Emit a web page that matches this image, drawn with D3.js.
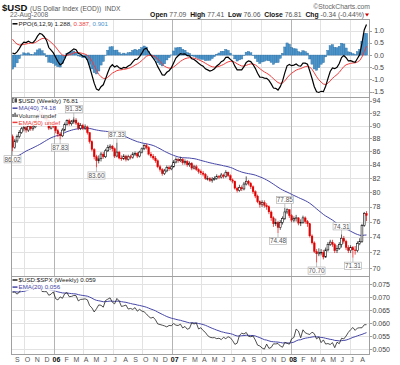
<!DOCTYPE html>
<html>
<head>
<meta charset="utf-8">
<script src="https://cdnjs.cloudflare.com/ajax/libs/d3/7.8.5/d3.min.js"></script>
<style>
body { margin: 0; background: #fff; }
text { font-family: "Liberation Sans", Arial, sans-serif; }
</style>
</head>
<body>
<svg id="chart" width="400" height="365"></svg>
<script>
// weekly $USD bars, 26-Aug-2005 .. 22-Aug-2008 (one per Friday)
var opens = [
  88.3, 86.6, 87.6, 88.3, 88.9, 89.5, 89.7, 89.3, 89.9, 89.5,
  89.8, 90.7, 91.6, 91.9, 91.5, 91.2, 90.8, 89.6, 90.2, 89.9,
  89.2, 88.7, 88.4, 89.3, 90.2, 90.8, 90.3, 90.6, 90.9, 90.4,
  89.6, 90.0, 89.6, 89.8, 88.9, 87.5, 86.3, 85.2, 84.6, 84.9,
  85.6, 85.2, 86.1, 86.6, 86.8, 86.4, 85.3, 85.9, 85.0, 84.9,
  85.3, 84.8, 85.2, 85.1, 85.6, 85.7, 85.3, 85.9, 86.4, 86.9,
  86.6, 85.6, 85.3, 85.0, 84.6, 83.7, 83.3, 82.7, 83.1, 83.6,
  83.4, 83.7, 84.4, 84.8, 84.6, 84.8, 84.3, 84.5, 84.0, 84.2,
  83.5, 83.7, 83.3, 83.0, 82.8, 82.6, 82.0, 82.0, 81.7, 81.9,
  82.0, 82.3, 82.2, 82.5, 82.3, 82.9, 82.4, 81.8, 81.6, 80.6,
  80.3, 80.7, 80.5, 81.2, 81.6, 81.3, 80.8, 80.1, 79.5, 78.7,
  78.3, 78.6, 78.2, 78.0, 77.3, 76.5, 75.7, 75.9, 75.2, 75.9,
  76.4, 77.3, 77.6, 76.8, 76.2, 76.4, 76.5, 75.8, 75.9, 76.5,
  76.0, 75.7, 74.1, 73.2, 72.1, 71.8, 72.0, 72.0, 71.4, 72.3,
  73.0, 73.3, 73.0, 72.2, 72.5, 73.0, 73.8, 73.4, 72.6, 72.2,
  72.6, 72.3, 72.2, 73.1, 73.4, 75.5, 77.1
];
var highs = [
  88.6, 87.9, 88.6, 89.3, 89.8, 90.2, 90.0, 90.2, 90.3, 90.1,
  91.0, 91.9, 92.6, 92.2, 91.9, 91.6, 91.0, 90.6, 90.7, 90.2,
  89.5, 89.0, 89.6, 90.5, 91.0, 91.1, 90.9, 91.35, 91.2, 90.6,
  90.4, 90.3, 90.2, 90.0, 89.0, 87.7, 86.5, 85.5, 85.4, 85.9,
  85.9, 86.4, 87.0, 87.1, 87.0, 86.6, 87.33, 86.1, 85.4, 85.6,
  85.5, 85.5, 85.5, 85.9, 86.0, 85.9, 86.1, 86.6, 87.1, 87.2,
  86.8, 85.9, 85.6, 85.3, 84.8, 84.0, 83.5, 83.4, 83.9, 83.9,
  84.0, 84.7, 85.1, 85.0, 85.2, 85.0, 84.8, 84.7, 84.5, 84.4,
  84.0, 84.0, 83.5, 83.3, 83.1, 82.8, 82.4, 82.2, 82.2, 82.3,
  82.6, 82.5, 82.8, 82.7, 83.2, 83.0, 82.6, 82.0, 81.7, 80.8,
  81.1, 81.0, 81.5, 82.3, 81.8, 81.5, 81.0, 80.3, 79.7, 78.9,
  78.9, 78.9, 78.5, 78.2, 77.5, 76.7, 76.4, 76.1, 76.2, 76.7,
  77.85, 77.8, 77.7, 77.0, 76.7, 76.9, 76.6, 76.3, 76.8, 76.7,
  76.2, 75.8, 74.3, 73.4, 72.4, 72.5, 72.4, 72.3, 72.6, 73.3,
  73.6, 73.6, 73.2, 72.9, 73.3, 74.31, 74.1, 73.6, 72.9, 72.9,
  72.8, 72.8, 73.4, 73.8, 75.7, 77.3, 77.41
];
var lows = [
  86.02, 86.4, 87.3, 88.0, 88.7, 89.1, 88.9, 89.0, 89.2, 89.2,
  89.6, 90.5, 91.3, 91.2, 90.9, 90.5, 89.3, 89.4, 89.6, 88.8,
  88.2, 87.83, 88.2, 89.1, 90.0, 90.0, 90.0, 90.3, 90.1, 89.3,
  89.3, 89.3, 89.3, 88.6, 87.2, 86.0, 84.8, 83.60, 84.2, 84.5,
  84.9, 85.0, 85.9, 86.2, 86.0, 85.0, 85.1, 84.8, 84.6, 84.7,
  84.5, 84.6, 84.8, 84.9, 85.3, 85.0, 85.1, 85.7, 86.2, 86.3,
  85.4, 85.0, 84.7, 84.3, 83.5, 83.0, 82.4, 82.5, 82.9, 83.1,
  83.2, 83.6, 84.2, 84.3, 84.4, 84.0, 84.0, 83.7, 83.7, 83.2,
  83.3, 83.1, 82.7, 82.5, 82.3, 81.8, 81.7, 81.5, 81.4, 81.7,
  81.8, 81.9, 82.0, 82.0, 82.1, 82.2, 81.6, 81.3, 80.4, 80.0,
  80.1, 80.2, 80.3, 81.0, 81.0, 80.5, 79.8, 79.2, 78.5, 77.9,
  78.0, 77.9, 77.6, 77.0, 76.1, 75.3, 75.4, 74.48, 74.9, 75.6,
  76.2, 77.0, 76.5, 75.9, 75.9, 76.0, 75.5, 75.4, 75.7, 75.7,
  75.3, 73.9, 73.0, 71.9, 70.70, 71.5, 71.6, 71.1, 71.3, 72.1,
  72.8, 72.7, 71.9, 71.9, 72.3, 72.6, 73.1, 72.3, 71.9, 71.9,
  71.31, 71.7, 72.0, 72.9, 73.2, 75.3, 76.06
];
var closes = [
  86.6, 87.6, 88.3, 88.9, 89.5, 89.7, 89.3, 89.9, 89.5, 89.8,
  90.7, 91.6, 91.9, 91.5, 91.2, 90.8, 89.6, 90.2, 89.9, 89.2,
  88.7, 88.4, 89.3, 90.2, 90.8, 90.3, 90.6, 90.9, 90.4, 89.6,
  90.0, 89.6, 89.8, 88.9, 87.5, 86.3, 85.2, 84.6, 84.9, 85.6,
  85.2, 86.1, 86.6, 86.8, 86.4, 85.3, 85.9, 85.0, 84.9, 85.3,
  84.8, 85.2, 85.1, 85.6, 85.7, 85.3, 85.9, 86.4, 86.9, 86.6,
  85.6, 85.3, 85.0, 84.6, 83.7, 83.3, 82.7, 83.1, 83.6, 83.4,
  83.7, 84.4, 84.8, 84.6, 84.8, 84.3, 84.5, 84.0, 84.2, 83.5,
  83.7, 83.3, 83.0, 82.8, 82.6, 82.0, 82.0, 81.7, 81.9, 82.0,
  82.3, 82.2, 82.5, 82.3, 82.9, 82.4, 81.8, 81.6, 80.6, 80.3,
  80.7, 80.5, 81.2, 81.6, 81.3, 80.8, 80.1, 79.5, 78.7, 78.3,
  78.6, 78.2, 78.0, 77.3, 76.5, 75.7, 75.9, 75.2, 75.9, 76.4,
  77.3, 77.6, 76.8, 76.2, 76.4, 76.5, 75.8, 75.9, 76.5, 76.0,
  75.7, 74.1, 73.2, 72.1, 71.8, 72.0, 72.0, 71.4, 72.3, 73.0,
  73.3, 73.0, 72.2, 72.5, 73.0, 73.8, 73.4, 72.6, 72.2, 72.6,
  72.3, 72.2, 73.1, 73.4, 75.5, 77.1, 76.81
];
// S&P 500 weekly closes for the same Fridays (for the $USD:$SPX ratio)
var spxCloses = [
  1205, 1218, 1241, 1237, 1215, 1229, 1195, 1187, 1179, 1199,
  1220, 1235, 1248, 1268, 1265, 1259, 1267, 1268, 1248, 1285,
  1287, 1261, 1284, 1265, 1266, 1287, 1289, 1287, 1281, 1307,
  1302, 1295, 1295, 1289, 1311, 1310, 1325, 1291, 1267, 1280,
  1288, 1253, 1251, 1245, 1270, 1265, 1236, 1240, 1278, 1280,
  1266, 1302, 1296, 1311, 1299, 1320, 1315, 1336, 1350, 1362,
  1368, 1377, 1364, 1380, 1401, 1400, 1396, 1409, 1427, 1410,
  1418, 1409, 1431, 1431, 1422, 1449, 1438, 1456, 1451, 1387,
  1402, 1386, 1436, 1421, 1444, 1452, 1484, 1495, 1505, 1505,
  1522, 1515, 1536, 1507, 1533, 1503, 1503, 1530, 1553, 1534,
  1459, 1433, 1453, 1445, 1479, 1474, 1454, 1484, 1525, 1527,
  1557, 1562, 1500, 1535, 1509, 1453, 1458, 1440, 1481, 1504,
  1468, 1484, 1478, 1411, 1401, 1325, 1330, 1395, 1331, 1349,
  1353, 1331, 1294, 1288, 1330, 1316, 1370, 1332, 1390, 1398,
  1414, 1389, 1426, 1375, 1400, 1361, 1360, 1318, 1278, 1262,
  1239, 1261, 1257, 1260, 1296, 1298, 1292
];
// 40 weeks before the window, used to warm up the averages
var priorUsd = [
  82.3, 81.5, 81.3, 82.5, 81.9, 81.4, 80.9, 83.3, 83.1, 83.4,
  83.6, 84.6, 84.6, 83.3, 82.6, 82.5, 81.5, 82.6, 84.2, 84.3,
  84.5, 84.2, 83.2, 83.6, 84.2, 85.7, 86.2, 86.8, 87.3, 87.9,
  87.3, 88.6, 89.3, 89.3, 89.5, 89.0, 88.9, 87.7, 87.4, 88.2
];
var priorSpx = [
  1170, 1182, 1191, 1189, 1194, 1210, 1212, 1186, 1184, 1168,
  1171, 1203, 1205, 1201, 1211, 1222, 1200, 1190, 1172, 1172,
  1182, 1143, 1152, 1157, 1172, 1154, 1189, 1198, 1197, 1201,
  1217, 1191, 1211, 1212, 1228, 1229, 1234, 1226, 1238, 1220
];
// labelled swing points (bar index)
var peakIdx = [27, 46, 120, 145];
var troughIdx = [0, 21, 37, 117, 134, 150];

var ppoTicks = [1.0, 0.5, 0.0, -0.5, -1.0, -1.5];
var priceTicks = [94, 92, 90, 88, 86, 84, 82, 80, 78, 76, 74, 72, 70];
var ratioTicks = [0.075, 0.070, 0.065, 0.060, 0.055, 0.050];

var svg = d3.select("#chart");
var left = 11, right = 370;
var weeks = d3.timeFriday.range(new Date(2005, 7, 26), new Date(2008, 7, 23));
var x = d3.scaleTime().domain([weeks[0], weeks[weeks.length - 1]]).range([12.5, 366.5]);

var panels = {
  ppo:   { top: 19,  bottom: 97 },
  price: { top: 97,  bottom: 276 },
  ratio: { top: 276, bottom: 354 }
};
var yPpo = d3.scaleLinear().domain([-1.72, 1.48]).range([panels.ppo.bottom, panels.ppo.top]);
var yPrice = d3.scaleLog().domain([69.05, 94.66]).range([panels.price.bottom, panels.price.top]);
var yRatio = d3.scaleLinear().domain([0.0482, 0.0781]).range([panels.ratio.bottom, panels.ratio.top]);

// ---- indicators
function ema(values, n) {
  var k = 2 / (n + 1), out = [], prev = values[0];
  values.forEach(function (v) { prev = prev + k * (v - prev); out.push(prev); });
  return out;
}
var P = priorUsd.length;
var allUsd = priorUsd.concat(closes);
var e6 = ema(allUsd, 6), e12 = ema(allUsd, 12);
var ppoAll = allUsd.map(function (v, i) { return (e6[i] - e12[i]) / e12[i] * 100; });
var sigAll = ema(ppoAll, 9);
var ppo = ppoAll.slice(P), signal = sigAll.slice(P);
var hist = ppo.map(function (v, i) { return v - signal[i]; });
var ma40 = closes.map(function (c, i) { return d3.mean(allUsd.slice(i + P - 39, i + P + 1)); });

var allRatio = priorUsd.map(function (v, i) { return v / priorSpx[i]; })
  .concat(closes.map(function (v, i) { return v / spxCloses[i]; }));
var ratio = allRatio.slice(P);
var ratioEma = ema(allRatio, 20).slice(P);

// ---- frame helpers
var gridColor = "#e2e2e2", yearColor = "#b4b4b4", frameColor = "#a0a0a0";
var quarters = d3.timeMonth.range(new Date(2005, 9, 1), new Date(2008, 8, 1), 3);

function clipFor(name, p) {
  svg.append("clipPath").attr("id", "clip-" + name).append("rect")
    .attr("x", left).attr("y", p.top).attr("width", right - left).attr("height", p.bottom - p.top);
}

function drawGrid(p, yScale, ticks) {
  var g = svg.append("g");
  g.selectAll(".h").data(ticks).join("line")
    .attr("x1", left).attr("x2", right)
    .attr("y1", function (d) { return Math.round(yScale(d)) + 0.5; })
    .attr("y2", function (d) { return Math.round(yScale(d)) + 0.5; })
    .attr("stroke", gridColor).attr("stroke-width", 1);
  g.selectAll(".v").data(quarters).join("line")
    .attr("x1", function (d) { return Math.round(x(d)) + 0.5; })
    .attr("x2", function (d) { return Math.round(x(d)) + 0.5; })
    .attr("y1", p.top).attr("y2", p.bottom)
    .attr("stroke", function (d) { return d.getMonth() === 0 ? yearColor : gridColor; })
    .attr("stroke-width", 1);
}

function drawAxis(p, yScale, ticks, fmt, anchorEnd) {
  var g = svg.append("g");
  g.selectAll("line").data(ticks).join("line")
    .attr("x1", right).attr("x2", right + 2)
    .attr("y1", function (d) { return Math.round(yScale(d)) + 0.5; })
    .attr("y2", function (d) { return Math.round(yScale(d)) + 0.5; })
    .attr("stroke", frameColor);
  g.selectAll("text").data(ticks).join("text")
    .attr("x", anchorEnd ? 384 : 372.5)
    .attr("y", function (d) { return yScale(d) + 2.5; })
    .attr("text-anchor", anchorEnd ? "end" : "start")
    .attr("font-size", 7).attr("fill", "#444")
    .text(fmt);
}

function frame(p) {
  svg.append("rect").attr("x", left + 0.5).attr("y", p.top + 0.5)
    .attr("width", right - left - 1).attr("height", p.bottom - p.top)
    .attr("fill", "none").attr("stroke", frameColor);
}

function legendRow(yBase, icon, parts) {
  var row = svg.append("g");
  var bg = row.append("rect");
  var t = row.append("text").attr("x", 18.5).attr("y", yBase).attr("font-size", 6.2);
  parts.forEach(function (pt) { t.append("tspan").attr("fill", pt[1]).text(pt[0]); });
  var w = t.node().getComputedTextLength();
  bg.attr("x", 12).attr("y", yBase - 5.6).attr("width", w + 8).attr("height", 7)
    .attr("fill", "#fff").attr("fill-opacity", 0.92);
  if (icon.type === "line") {
    row.append("line").attr("x1", 12.5).attr("x2", 17.5)
      .attr("y1", yBase - 2.2).attr("y2", yBase - 2.2)
      .attr("stroke", icon.color).attr("stroke-width", 1.5);
  } else if (icon.type === "candle") {
    row.append("rect").attr("x", 12.5).attr("y", yBase - 4.6).attr("width", 1.6).attr("height", 3.6)
      .attr("fill", "#fff").attr("stroke", "#222").attr("stroke-width", 0.6);
    row.append("rect").attr("x", 15.2).attr("y", yBase - 5).attr("width", 1.6).attr("height", 4.2)
      .attr("fill", "#222");
  } else {
    [[12.4, 3], [14.4, 4.3], [16.4, 2.5]].forEach(function (b) {
      row.append("rect").attr("x", b[0]).attr("y", yBase - 0.5 - b[1])
        .attr("width", 1.3).attr("height", b[1]).attr("fill", "#444");
    });
  }
}

// ---- header
svg.append("text").attr("x", 2).attr("y", 10.5).attr("font-size", 9.5).attr("font-weight", "bold")
  .attr("fill", "#111").text("$USD");
svg.append("text").attr("x", 30).attr("y", 10.5).attr("font-size", 6.6).attr("fill", "#555")
  .attr("xml:space", "preserve").text("(US Dollar Index (EOD))  INDX");
svg.append("text").attr("x", 10).attr("y", 17).attr("font-size", 6.6)
  .attr("fill", "#666").text("22-Aug-2008");
svg.append("text").attr("x", 370).attr("y", 8.5).attr("font-size", 6.8).attr("text-anchor", "end")
  .attr("fill", "#666").text("\u00a9StockCharts.com");

var quote = svg.append("text").attr("x", 364).attr("y", 17).attr("font-size", 6.8)
  .attr("text-anchor", "end");
[["Open ", true], ["77.09  ", false], ["High ", true], ["77.41  ", false], ["Low ", true],
 ["76.06  ", false], ["Close ", true], ["76.81  ", false], ["Chg ", true], ["-0.34 (-0.44%)", false]]
  .forEach(function (q) {
    quote.append("tspan").attr("font-weight", q[1] ? "bold" : "normal")
      .attr("fill", q[1] ? "#111" : "#555").attr("xml:space", "preserve").text(q[0]);
  });
svg.append("path").attr("d", "M365,13.5 L369,13.5 L367,16.5 Z").attr("fill", "#c00");

// ---- PPO panel
clipFor("ppo", panels.ppo);
drawGrid(panels.ppo, yPpo, ppoTicks);
var gPpo = svg.append("g").attr("clip-path", "url(#clip-ppo)");
gPpo.selectAll("rect").data(hist).join("rect")
  .attr("x", function (d, i) { return x(weeks[i]) - 1.13; })
  .attr("width", 2.27)
  .attr("y", function (d) { return Math.min(yPpo(d), yPpo(0)); })
  .attr("height", function (d) { return Math.abs(yPpo(d) - yPpo(0)); })
  .attr("fill", "#4b95cd").attr("stroke", "#2f6e9f").attr("stroke-width", 0.4);
gPpo.append("path").datum(signal)
  .attr("d", d3.line().x(function (d, i) { return x(weeks[i]); }).y(function (d) { return yPpo(d); }))
  .attr("fill", "none").attr("stroke", "#f03c3c").attr("stroke-width", 1);
gPpo.append("path").datum(ppo)
  .attr("d", d3.line().x(function (d, i) { return x(weeks[i]); }).y(function (d) { return yPpo(d); }))
  .attr("fill", "none").attr("stroke", "#000").attr("stroke-width", 1.2);
drawAxis(panels.ppo, yPpo, ppoTicks, function (d) { return d.toFixed(1); }, true);
legendRow(26, { type: "line", color: "#000" },
  [["PPO(6,12,9) 1.288, ", "#222"], ["0.387, ", "#f03c3c"], ["0.901", "#4b95cd"]]);
frame(panels.ppo);

// ---- price panel
clipFor("price", panels.price);
drawGrid(panels.price, yPrice, priceTicks);
var gPrice = svg.append("g").attr("clip-path", "url(#clip-price)");
gPrice.append("path").datum(ma40)
  .attr("d", d3.line().x(function (d, i) { return x(weeks[i]); }).y(function (d) { return yPrice(d); }))
  .attr("fill", "none").attr("stroke", "#4646a8").attr("stroke-width", 1);

function barColor(i) {
  var prev = i === 0 ? priorUsd[P - 1] : closes[i - 1];
  return closes[i] >= prev ? "#111" : "#e00000";
}
gPrice.selectAll(".wick").data(closes).join("line")
  .attr("x1", function (d, i) { return x(weeks[i]); })
  .attr("x2", function (d, i) { return x(weeks[i]); })
  .attr("y1", function (d, i) { return yPrice(highs[i]); })
  .attr("y2", function (d, i) { return yPrice(lows[i]); })
  .attr("stroke", function (d, i) { return barColor(i); }).attr("stroke-width", 0.7);
gPrice.selectAll(".body").data(closes).join("rect")
  .attr("x", function (d, i) { return x(weeks[i]) - 0.9; })
  .attr("width", 1.8)
  .attr("y", function (d, i) { return yPrice(Math.max(opens[i], d)); })
  .attr("height", function (d, i) { return Math.max(0.8, Math.abs(yPrice(opens[i]) - yPrice(d))); })
  .attr("fill", function (d, i) { return d > opens[i] ? "#fff" : barColor(i); })
  .attr("stroke", function (d, i) { return barColor(i); })
  .attr("stroke-width", function (d, i) { return d > opens[i] ? 0.6 : 0.3; });

// swing point labels
var notes = peakIdx.map(function (i) { return { i: i, v: highs[i], up: true }; })
  .concat(troughIdx.map(function (i) { return { i: i, v: lows[i], up: false }; }));
var gNotes = svg.append("g");
notes.forEach(function (n) {
  var cx = x(weeks[n.i]), py = yPrice(n.v);
  var cy = n.up ? py - 8 : py + 8;
  gNotes.append("line").attr("x1", cx).attr("x2", cx).attr("y1", py)
    .attr("y2", n.up ? cy + 3.6 : cy - 3.6).attr("stroke", "#999").attr("stroke-width", 0.6);
  gNotes.append("rect").attr("x", cx - 8.5).attr("y", cy - 3.6).attr("width", 17).attr("height", 7.2)
    .attr("fill", "#fff").attr("stroke", "#aaa").attr("stroke-width", 0.6);
  gNotes.append("text").attr("x", cx).attr("y", cy + 2.3).attr("text-anchor", "middle")
    .attr("font-size", 6.4).attr("fill", "#555").text(n.v.toFixed(2));
});
drawAxis(panels.price, yPrice, priceTicks, function (d) { return d; }, false);
legendRow(103.3, { type: "candle" }, [["$USD (Weekly) 76.81", "#222"]]);
legendRow(110.4, { type: "line", color: "#4646a8" }, [["MA(40) 74.18", "#4646a8"]]);
legendRow(117.5, { type: "bars" }, [["Volume undef", "#333"]]);
legendRow(124.6, { type: "line", color: "#f03c3c" }, [["EMA(50) undef", "#f03c3c"]]);
frame(panels.price);

// ---- ratio panel
clipFor("ratio", panels.ratio);
drawGrid(panels.ratio, yRatio, ratioTicks);
var gRatio = svg.append("g").attr("clip-path", "url(#clip-ratio)");
gRatio.append("path").datum(ratioEma)
  .attr("d", d3.line().x(function (d, i) { return x(weeks[i]); }).y(function (d) { return yRatio(d); }))
  .attr("fill", "none").attr("stroke", "#4646a8").attr("stroke-width", 1);
gRatio.append("path").datum(ratio)
  .attr("d", d3.line().x(function (d, i) { return x(weeks[i]); }).y(function (d) { return yRatio(d); }))
  .attr("fill", "none").attr("stroke", "#222").attr("stroke-width", 0.8);
drawAxis(panels.ratio, yRatio, ratioTicks, function (d) { return d.toFixed(3); }, false);
legendRow(282.2, { type: "line", color: "#222" }, [["$USD:$SPX (Weekly) 0.059", "#222"]]);
legendRow(289.3, { type: "line", color: "#4646a8" }, [["EMA(20) 0.056", "#4646a8"]]);
frame(panels.ratio);

// ---- month labels
var months = d3.timeMonth.range(new Date(2005, 8, 1), new Date(2008, 8, 1));
var fmtMonth = d3.timeFormat("%b");
svg.append("g").selectAll("text").data(months).join("text")
  .attr("x", function (d) { return d.getMonth() === 0 ? x(d) - 1.5 : x(d) + 0.5; })
  .attr("y", 362)
  .attr("font-size", 7)
  .attr("font-weight", function (d) { return d.getMonth() === 0 ? "bold" : "normal"; })
  .attr("fill", function (d) { return d.getMonth() === 0 ? "#111" : "#555"; })
  .text(function (d) { return d.getMonth() === 0 ? d3.timeFormat("%y")(d) : fmtMonth(d).charAt(0); });
</script>
</body>
</html>
